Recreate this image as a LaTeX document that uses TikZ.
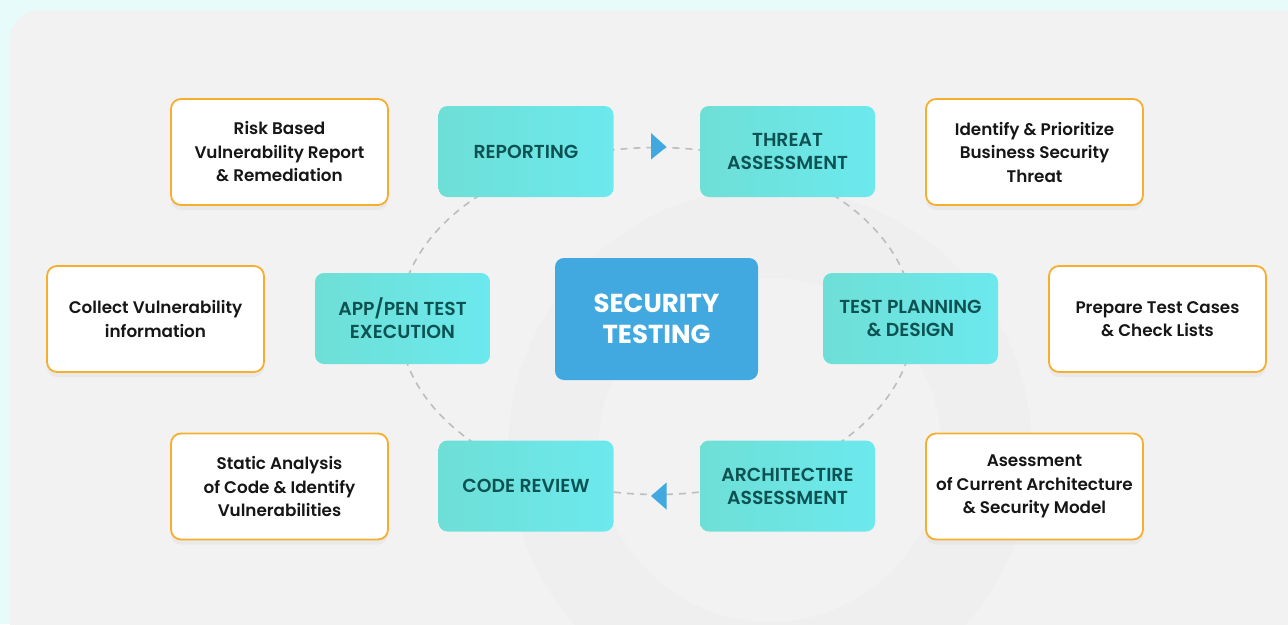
\documentclass[tikz,border=0pt]{standalone}
\usepackage{fontspec}
\setmainfont{Poppins}[BoldFont={Poppins SemiBold}]
\newfontfamily\heavy{Poppins}[UprightFont={Poppins Bold}]
\usetikzlibrary{shadows,calc}
\definecolor{bgcyan}{HTML}{E8FBFB}
\definecolor{panel}{HTML}{F2F2F2}
\definecolor{ringc}{HTML}{EFEFEF}
\definecolor{tealL}{HTML}{6EDFD6}
\definecolor{tealR}{HTML}{6CE9EE}
\definecolor{tealtxt}{HTML}{0D5252}
\definecolor{bluec}{HTML}{42A8E0}
\definecolor{orng}{HTML}{F7AE2F}
\definecolor{dashc}{HTML}{BDBDBD}
\definecolor{notetxt}{HTML}{161616}
\begin{document}
\begin{tikzpicture}[x=1pt,y=-1pt,
  stage/.style={rounded corners=9pt, left color=tealL, right color=tealR, draw=none,
    minimum width=175pt, minimum height=91pt, inner sep=0pt, align=center,
    text=tealtxt, font=\fontsize{18.8}{23}\selectfont\bfseries},
  core/.style={rounded corners=9pt, fill=bluec, minimum width=203pt, minimum height=122pt,
    inner sep=0pt, align=center, text=white, font=\fontsize{26}{30.5}\selectfont\heavy},
  note/.style={rounded corners=10pt, fill=white, draw=orng, line width=1.8pt,
    minimum width=217pt, minimum height=106pt, inner sep=0pt, align=center,
    text=notetxt, font=\fontsize{16.8}{23.5}\selectfont\bfseries,
    drop shadow={opacity=0.07, shadow xshift=0pt, shadow yshift=-5pt}},
  ring/.style={draw=dashc, line width=1.6pt, dash pattern=on 7pt off 6pt},
  tip/.style={fill=bluec}
]
\clip (0,0) rectangle (1288,624);
\fill[bgcyan] (0,0) rectangle (1288,624);
\fill[panel, rounded corners=30pt] (10,10) rectangle (1330,680);
% faint watermark
\fill[ringc, even odd rule] (770,450) circle (262) (770,450) circle (172);

% centre
\node[core] (st) at (656.5,319) {SECURITY\\TESTING};

% dashed cycle
\draw[ring] ($(st.center)+(0,2)$) ellipse (257 and 173.5);

% stages
\node[stage] (rep) at (526,151.5) {REPORTING};
\node[stage] (thr) at (787.5,151.5) {THREAT\\ASSESSMENT};
\node[stage] (app) at (402.5,318.5) {APP/PEN TEST\\EXECUTION};
\node[stage] (tpd) at (910.5,318.5) {TEST PLANNING\\\& DESIGN};
\node[stage] (cod) at (526,486) {CODE REVIEW};
\node[stage] (arc) at (787.5,486) {ARCHITECTIRE\\ASSESSMENT};

% arrow tips
\fill[tip] (651,133) -- (666.5,147) -- (651,159.5) -- cycle;
\fill[tip] (666.5,482.5) -- (651,496) -- (666.5,509.5) -- cycle;

% notes
\node[note] (n1) at (279.5,152) {Risk Based\\Vulnerability Report\\\& Remediation};
\node[note] (n2) at (1034.5,152) {Identify \& Prioritize\\Business Security\\Threat};
\node[note] (n3) at (155.5,319) {Collect Vulnerability\\information};
\node[note] (n4) at (1157.5,319) {Prepare Test Cases\\\& Check Lists};
\node[note] (n5) at (279.5,486.5) {Static Analysis\\of Code \& Identify\\Vulnerabilities};
\node[note] (n6) at (1034.5,486.5) {Asessment\\of Current Architecture\\\& Security Model};
\end{tikzpicture}
\end{document}
